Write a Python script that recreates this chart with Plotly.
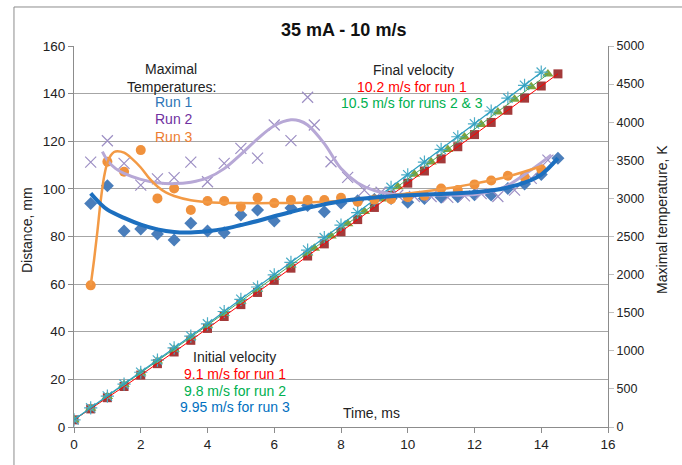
import plotly.graph_objects as go

# ---------------- distance data (mm) ----------------
t_run1 = [0, 0.5, 1, 1.5, 2, 2.5, 3, 3.5, 4, 4.5, 5, 5.5, 6, 6.5, 7, 7.5,
          8, 8.5, 9, 9.5, 10, 10.5, 11, 11.5, 12, 12.5, 13, 13.5, 14, 14.5]
dist_run1 = [3.0, 7.6, 12.3, 17.0, 21.8, 26.6, 31.5, 36.4, 41.4, 46.4, 51.4,
             56.5, 61.6, 66.7, 71.8, 76.9, 82.0, 87.1, 92.2, 97.3, 102.4,
             107.5, 112.6, 117.7, 122.8, 127.9, 133.0, 138.1, 143.2, 148.3]

t_run2 = [0, 0.5, 1, 1.5, 2, 2.5, 3, 3.5, 4, 4.5, 5, 5.5, 6, 6.5, 7, 7.2,
          7.7, 8.2, 8.7, 9.2, 9.7, 10.2, 10.7, 11.2, 11.7, 12.2, 12.7, 13.2,
          13.7, 14.2]
dist_run2 = [3.0, 7.9, 12.8, 17.8, 22.7, 27.7, 32.7, 37.7, 42.7, 47.7, 52.8,
             57.8, 62.9, 68.0, 73.1, 75.1, 80.2, 85.4, 90.5, 95.7, 100.9,
             106.1, 111.3, 116.5, 121.8, 127.0, 132.3, 137.6, 142.9, 148.2]

t_run3 = [0, 0.5, 1, 1.5, 2, 2.5, 3, 3.5, 4, 4.5, 5, 5.5, 6, 6.5, 7, 7.5,
          8, 8.5, 9, 9.5, 10, 10.5, 11, 11.5, 12, 12.5, 13, 13.5, 14]
dist_run3 = [3.0, 8.0, 13.0, 18.0, 23.0, 28.1, 33.2, 38.2, 43.3, 48.5, 53.6,
             58.8, 63.9, 69.1, 74.3, 79.5, 84.8, 90.0, 95.3, 100.6, 105.9,
             111.2, 116.6, 121.9, 127.3, 132.7, 138.1, 143.5, 149.0]

# ---------------- maximal temperature data (K) ----------------
tt_run1 = [0.5, 1, 1.5, 2, 2.5, 3, 3.5, 4, 4.5, 5, 5.5, 6, 6.5, 7, 7.5,
           8, 8.5, 9, 9.5, 10, 10.5, 11, 11.5, 12, 12.5, 13, 13.5, 14, 14.5]
temp_run1 = [2934, 3166, 2572, 2600, 2534, 2453, 2675, 2572, 2550, 2781,
             2847, 2703, 2875, 2906, 2825, 2938, 2969, 2984, 3000, 2950,
             3000, 3016, 3022, 3047, 3044, 3131, 3188, 3313, 3528]

tt_run2 = [0.5, 1, 1.5, 2, 2.5, 3, 3.5, 4, 4.5, 5, 5.5, 6, 6.5, 7, 7.2,
           7.7, 8.2, 8.7, 9.2, 9.7, 10.2, 10.7, 11.2, 11.7, 12.2, 12.7,
           13.2, 13.7, 14.2]
temp_run2 = [3475, 3756, 3459, 3175, 3256, 3272, 3475, 3219, 3459, 3656,
             3528, 3963, 3759, 4328, 3963, 3481, 3275, 3109, 3081, 3041,
             3025, 3025, 3013, 3034, 3063, 3025, 3109, 3263, 3503]

tt_run3 = [0.5, 1, 1.5, 2, 2.5, 3, 3.5, 4, 4.5, 5, 5.5, 6, 6.5, 7, 7.5,
           8, 8.5, 9, 9.5, 10, 10.5, 11, 11.5, 12, 12.5, 13, 13.5, 14]
temp_run3 = [1859, 3481, 3350, 3634, 3000, 3131, 2847, 2966, 2966, 2891,
             3009, 2938, 2978, 2978, 2978, 3009, 2956, 2984, 2988, 3016,
             3034, 3131, 3109, 3184, 3234, 3297, 3281, 3381]

# smoothed temperature trends (K)
trend_t1 = [0.5, 0.75, 1, 1.5, 2, 2.5, 3, 3.5, 4, 4.5, 5, 5.5, 6, 6.5, 7,
            7.5, 8, 8.5, 9, 9.5, 10, 10.5, 11, 11.5, 12, 12.5, 13, 13.5, 14,
            14.5]
trend_k1 = [3066, 2947, 2853, 2744, 2656, 2594, 2559, 2553, 2569, 2600, 2650,
            2703, 2766, 2822, 2875, 2922, 2963, 2991, 3013, 3028, 3041, 3050,
            3059, 3069, 3081, 3103, 3144, 3206, 3313, 3528]

trend_t2 = [0.85, 1, 1.25, 1.5, 2, 2.5, 3, 3.5, 4, 4.5, 5, 5.5, 6, 6.5, 6.75,
            7, 7.5, 8, 8.5, 9, 9.5, 10, 11, 12, 12.5, 13, 13.5, 14, 14.3]
trend_k2 = [3613, 3500, 3391, 3328, 3250, 3206, 3194, 3213, 3269, 3391, 3578,
            3781, 3953, 4031, 4019, 3963, 3719, 3391, 3203, 3103, 3059, 3047,
            3044, 3050, 3094, 3172, 3313, 3469, 3572]

trend_t3 = [0.5, 0.6, 0.7, 0.8, 0.9, 1, 1.1, 1.2, 1.3, 1.5, 1.75, 2, 2.25,
            2.5, 2.75, 3, 3.5, 4, 5, 6, 7, 8, 9, 10, 11, 12, 13, 14]
trend_k3 = [1859, 2188, 2563, 2969, 3281, 3469, 3563, 3609, 3619, 3600, 3516,
            3406, 3266, 3156, 3078, 3031, 2975, 2950, 2938, 2938, 2947, 2969,
            3013, 3063, 3119, 3194, 3288, 3422]

FONT = "Liberation Sans, Arial, sans-serif"

fig = go.Figure()

# distance markers
fig.add_trace(go.Scatter(x=t_run1, y=dist_run1, mode="markers",
                         marker=dict(symbol="square", size=9, color="#A33A3A",
                                     line=dict(width=0))))
fig.add_trace(go.Scatter(x=t_run2, y=dist_run2, mode="markers",
                         marker=dict(symbol="triangle-up", size=10, color="#7FA33F",
                                     line=dict(width=0))))
fig.add_trace(go.Scatter(x=t_run3, y=dist_run3, mode="markers",
                         marker=dict(symbol="asterisk-open", size=11, color="#4BACC6",
                                     line=dict(width=1.2, color="#4BACC6"))))
# distance lines
fig.add_trace(go.Scatter(x=t_run1, y=dist_run1, mode="lines",
                         line=dict(color="#FF0000", width=1)))
fig.add_trace(go.Scatter(x=t_run2, y=dist_run2, mode="lines",
                         line=dict(color="#4CA65A", width=1)))
fig.add_trace(go.Scatter(x=t_run3, y=dist_run3, mode="lines",
                         line=dict(color="#2E9FC0", width=1.2)))

# temperature markers (right axis)
fig.add_trace(go.Scatter(x=tt_run1, y=temp_run1, mode="markers", yaxis="y2",
                         marker=dict(symbol="diamond", size=10, color="#4A7EBB",
                                     line=dict(width=0))))
fig.add_trace(go.Scatter(x=tt_run2, y=temp_run2, mode="markers", yaxis="y2",
                         marker=dict(symbol="x-thin-open", size=11, color="#9D8FC4",
                                     line=dict(width=1.2, color="#9D8FC4"))))
fig.add_trace(go.Scatter(x=tt_run3, y=temp_run3, mode="markers", yaxis="y2",
                         marker=dict(symbol="circle", size=10, color="#F0913C",
                                     line=dict(width=0))))

# temperature trends
fig.add_trace(go.Scatter(x=trend_t2, y=trend_k2, mode="lines", yaxis="y2",
                         line=dict(color="#B7A8D6", width=3, shape="spline")))
fig.add_trace(go.Scatter(x=trend_t3, y=trend_k3, mode="lines", yaxis="y2",
                         line=dict(color="#F39A45", width=2.5, shape="spline")))
fig.add_trace(go.Scatter(x=trend_t1, y=trend_k1, mode="lines", yaxis="y2",
                         line=dict(color="#1C6FBF", width=4, shape="spline")))

axis_col = "#8C8C8C"

fig.update_layout(
    width=682, height=465,
    margin=dict(l=74, r=74, t=46, b=38),
    paper_bgcolor="white", plot_bgcolor="white",
    showlegend=False,
    font=dict(family=FONT, size=13, color="#222222"),
    xaxis=dict(range=[0, 16], dtick=2, showgrid=False, zeroline=False,
               showline=True, linecolor=axis_col, linewidth=1,
               ticks="outside", ticklen=5, tickcolor=axis_col,
               tickfont=dict(size=13.5, color="#222222")),
    yaxis=dict(range=[0, 160], dtick=20, showgrid=True, gridcolor="#A6A6A6",
               gridwidth=1, zeroline=False, showline=True, linecolor=axis_col,
               ticks="outside", ticklen=5, tickcolor=axis_col,
               tickfont=dict(size=13.5, color="#222222")),
    yaxis2=dict(range=[0, 5000], dtick=500, overlaying="y", side="right",
                showgrid=False, zeroline=False, showline=True,
                linecolor=axis_col, ticks="outside", ticklen=5,
                tickcolor="#BFBFBF", tickfont=dict(size=12.5, color="#222222")),
)

# outer frame
fig.add_shape(type="rect", xref="paper", yref="paper",
              x0=-0.1124, x1=1.25, y0=-0.25, y1=1.1024,
              line=dict(color="#8C8C8C", width=1), layer="below")

def note(x, y, text, color="#222222", xanchor="center", size=14, xref="x", yref="y",
         angle=0):
    fig.add_annotation(x=x, y=y, xref=xref, yref=yref, text=text,
                       showarrow=False, xanchor=xanchor, yanchor="middle",
                       textangle=angle,
                       font=dict(family=FONT, size=size, color=color))

# chart title and axis titles
note(0.504, 1.042, "<b>35 mA - 10 m/s</b>", xref="paper", yref="paper", size=18,
     color="#111111")
note(-0.088, 0.517, "Distance, mm", xref="paper", yref="paper", angle=-90, size=14)
note(1.101, 0.546, "Maximal temperature, K", xref="paper", yref="paper",
     angle=-90, size=14)
note(8.9, 6.0, "Time, ms", size=14)

# temperature legend text
note(2.92, 150.2, "Maximal")
note(2.92, 142.9, "Temperatures:")
note(2.36, 136.6, "Run 1", color="#2E75B6", xanchor="left")
note(2.36, 129.2, "Run 2", color="#7030A0", xanchor="left")
note(2.36, 121.9, "Run 3", color="#ED7D31", xanchor="left")

# final velocities
note(10.16, 149.9, "Final velocity")
note(10.14, 142.9, "10.2 m/s for run 1", color="#FF0000")
note(10.14, 136.2, "10.5 m/s for runs 2 &amp; 3", color="#00B050")

# initial velocities
note(4.81, 29.3, "Initial velocity")
note(4.81, 22.3, "9.1 m/s for run 1", color="#FF0000")
note(4.81, 15.2, "9.8 m/s for run 2", color="#00B050")
note(4.81, 8.5, "9.95 m/s for run 3", color="#0070C0")

fig.write_html("out.html")
